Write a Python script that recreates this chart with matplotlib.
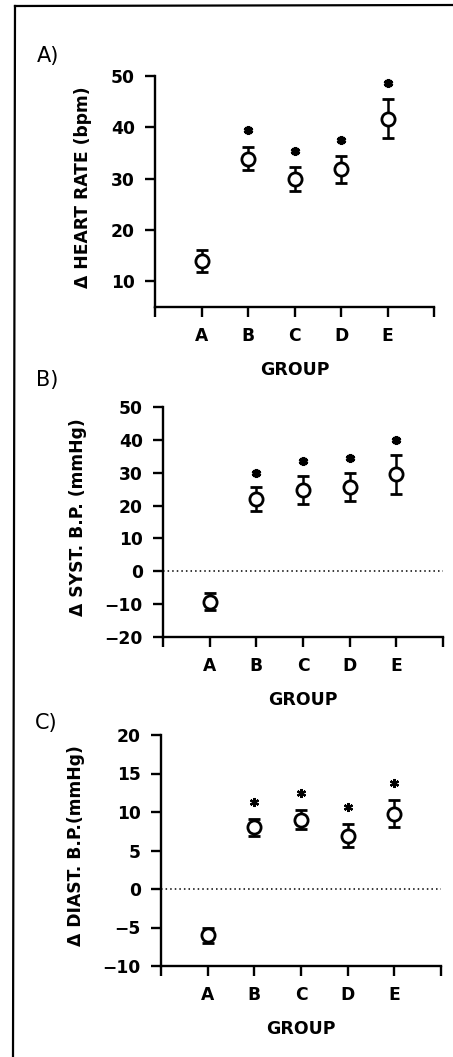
import matplotlib
matplotlib.use('Agg')
import matplotlib.pyplot as plt
from matplotlib.lines import Line2D

# Data
groups = ['A', 'B', 'C', 'D', 'E']
group_pos = [1, 2, 3, 4, 5]

hr_mean = [14.0, 33.9, 29.9, 31.8, 41.7]
hr_err = [2.2, 2.3, 2.4, 2.7, 3.8]
hr_star = [None, 39.4, 35.4, 37.6, 48.7]

sbp_mean = [-9.2, 21.9, 24.7, 25.7, 29.5]
sbp_err = [2.5, 3.6, 4.3, 4.3, 6.0]
sbp_star = [None, 30.0, 33.5, 34.5, 39.9]

dbp_mean = [-6.0, 8.0, 9.0, 6.9, 9.8]
dbp_err = [1.0, 1.1, 1.2, 1.5, 1.7]
dbp_star = [None, 11.3, 12.5, 10.7, 13.8]

FONT = 'DejaVu Sans'
plt.rcParams['font.family'] = FONT

fig = plt.figure(figsize=(4.53, 10.57), dpi=100)

W, H = 453.0, 1057.0


def axes_px(left, right, top, bottom):
    return [left / W, 1 - bottom / H, (right - left) / W, (bottom - top) / H]


panels = [
    dict(rect=axes_px(155, 434, 76, 307), mean=hr_mean, err=hr_err, star=hr_star,
         ylim=(5, 50), yticks=[10, 20, 30, 40, 50], zero=False,
         ylabel='\u0394 HEART RATE (bpm)', letter='A)', lxy=(37, 62),
         ylab_x=-0.225, star_mew=2.4),
    dict(rect=axes_px(163, 443, 407, 637), mean=sbp_mean, err=sbp_err, star=sbp_star,
         ylim=(-20, 50), yticks=[-20, -10, 0, 10, 20, 30, 40, 50], zero=True,
         ylabel='\u0394 SYST. B.P. (mmHg)', letter='B)', lxy=(36, 386),
         ylab_x=-0.272, star_mew=2.4),
    dict(rect=axes_px(161, 441, 735, 966), mean=dbp_mean, err=dbp_err, star=dbp_star,
         ylim=(-10, 20), yticks=[-10, -5, 0, 5, 10, 15, 20], zero=True,
         ylabel='\u0394 DIAST. B.P.(mmHg)', letter='C)', lxy=(35, 729),
         ylab_x=-0.272, star_mew=1.6),
]

for p in panels:
    ax = fig.add_axes(p['rect'])
    ax.errorbar(group_pos, p['mean'], yerr=p['err'], fmt='o', color='black',
                mfc='white', mec='black', ms=9.5, mew=2.0,
                elinewidth=1.8, capsize=4.5, capthick=1.9, zorder=3)
    sx = [x for x, s in zip(group_pos, p['star']) if s is not None]
    sy = [s for s in p['star'] if s is not None]
    ax.plot(sx, sy, linestyle='none', marker=(6, 2, 0), ms=6.5,
            mew=p['star_mew'], color='black')
    if p['zero']:
        ax.axhline(0, color='black', lw=1.1, linestyle=(0, (1, 2)), zorder=1)

    ax.set_xlim(0, 6)
    ax.set_ylim(*p['ylim'])
    ax.set_xticks([0] + group_pos + [6])
    ax.set_xticklabels([''] + groups + [''])
    ax.set_yticks(p['yticks'])
    ax.set_yticklabels([f'{v}'.replace('-', '\u2212') for v in p['yticks']])

    for side in ('top', 'right'):
        ax.spines[side].set_visible(False)
    for side in ('left', 'bottom'):
        ax.spines[side].set_linewidth(1.7)
    ax.tick_params(direction='out', length=7.5, width=1.7, labelsize=12.3, pad=7)
    for lab in ax.get_xticklabels() + ax.get_yticklabels():
        lab.set_fontweight('bold')

    ax.set_xlabel('GROUP', fontsize=12.5, fontweight='bold')
    ax.xaxis.set_label_coords(0.5, -0.235)
    ax.xaxis.label.set_va('top')
    ax.set_ylabel(p['ylabel'], fontsize=12.3, fontweight='bold')
    ax.yaxis.set_label_coords(p['ylab_x'], 0.52)

    fig.text(p['lxy'][0] / W, 1 - p['lxy'][1] / H, p['letter'],
             fontsize=15, ha='left', va='baseline')

# outer frame (left and top edges of the scanned box)
fig.add_artist(Line2D([15 / W, 1.0], [1 - 6 / H, 1 - 5 / H], color='black', lw=1.6,
                      transform=fig.transFigure))
fig.add_artist(Line2D([15 / W, 13 / W], [1 - 6 / H, 0.0], color='black', lw=1.6,
                      transform=fig.transFigure))

fig.savefig('out.png', dpi=100)
